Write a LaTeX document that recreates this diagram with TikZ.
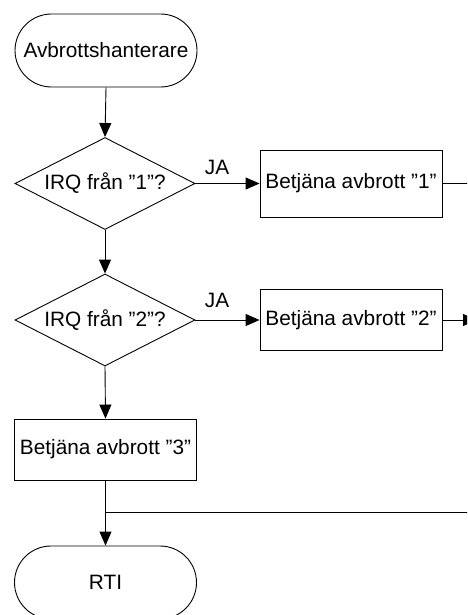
\documentclass[tikz,border=0pt]{standalone}
\usepackage{fontspec}
\setmainfont{Liberation Sans}
\usetikzlibrary{shapes.geometric,shapes.misc,arrows.meta}
\newcommand{\sq}{\char"0022\relax}
\begin{document}
\begin{tikzpicture}[x=1pt,y=-1pt,
  every node/.style={font=\fontsize{20.8}{24}\selectfont},
  term/.style={draw,line width=0.9pt,rounded rectangle,minimum width=182pt,minimum height=73pt,inner sep=0pt},
  decision/.style={draw,line width=0.9pt,diamond,aspect=1.96,minimum width=180pt,minimum height=92pt,inner sep=0pt},
  procbox/.style={draw,line width=0.9pt,rectangle,minimum width=182pt,inner sep=0pt},
  conn/.style={line width=0.9pt},
  flow/.style={conn,-{Triangle[length=14pt,width=12pt]}},
  lbl/.style={inner sep=0pt}
]
\useasboundingbox (0,0) rectangle (467,615);
\clip (0,0) rectangle (467,615);
\node[term] (start) at (106,50.5) {Avbrottshanterare};
\node[decision] (d1) at (105,183.5) {IRQ från ”1\sq?};
\node[procbox,minimum height=67pt] (b1) at (351,183.5) {Betjäna avbrott ”1\sq};
\node[decision] (d2) at (105,320) {IRQ från ”2\sq?};
\node[procbox,minimum height=61pt] (b2) at (351,320) {Betjäna avbrott ”2\sq};
\node[procbox,minimum height=61pt] (b3) at (105.5,449.5) {Betjäna avbrott ”3\sq};
\node[term] (rti) at (105.5,582.5) {RTI};
\node[lbl] (ja1) at (217,167) {JA};
\node[lbl] (ja2) at (217,300) {JA};
\coordinate (e1) at (480,183.5);
\coordinate (e2) at (477,320);
\coordinate (j) at (105.5,512);
\coordinate (e3) at (480,512);
\draw[flow] (start.south) -- (d1.north);
\draw[flow] (d1.east) -- (b1.west);
\draw[conn] (b1.east) -- (e1);
\draw[flow] (d1.south) -- (d2.north);
\draw[flow] (d2.east) -- (b2.west);
\draw[flow] (b2.east) -- (e2);
\draw[flow] (d2.south) -- (b3.north);
\draw[flow] (b3.south) -- (rti.north);
\draw[conn] (j) -- (e3);
\end{tikzpicture}
\end{document}
